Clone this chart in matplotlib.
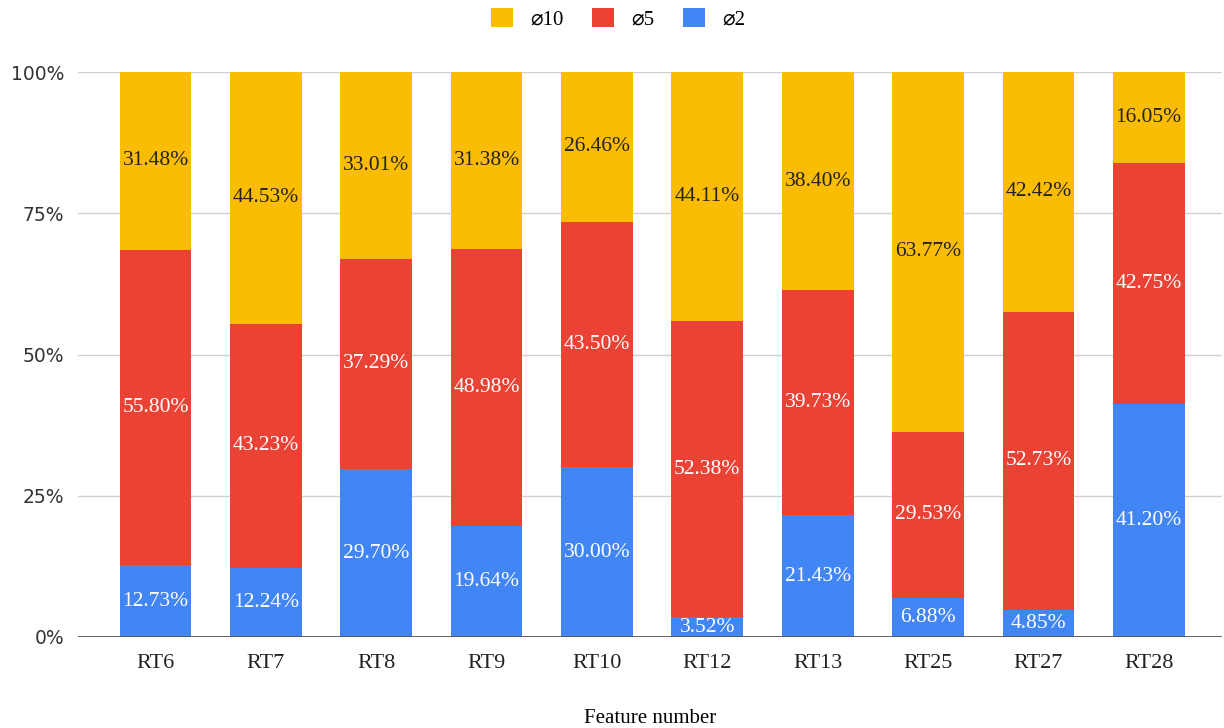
import numpy as np
import matplotlib
matplotlib.use("Agg")
from matplotlib import pyplot as plt
from matplotlib.patches import Patch
from matplotlib.ticker import FuncFormatter

features = ["RT6", "RT7", "RT8", "RT9", "RT10", "RT12", "RT13", "RT25", "RT27", "RT28"]
d2 = [12.73, 12.24, 29.70, 19.64, 30.00, 3.52, 21.43, 6.88, 4.85, 41.20]
d5 = [55.80, 43.23, 37.29, 48.98, 43.50, 52.38, 39.73, 29.53, 52.73, 42.75]
d10 = [31.48, 44.53, 33.01, 31.38, 26.46, 44.11, 38.40, 63.77, 42.42, 16.05]

series = [("⌀2", d2, "#4285F4", "white"),
          ("⌀5", d5, "#EA4335", "white"),
          ("⌀10", d10, "#FBBC04", "#222222")]

serif = ["Liberation Serif", "DejaVu Serif", "DejaVu Sans", "Noto Sans",
         "Noto Sans CJK SC", "Noto Sans CJK JP"]

fig = plt.figure(figsize=(12.24, 7.28), dpi=100)
ax = fig.add_axes([0.064, 0.125, 0.934, 0.776])

x = np.arange(len(features))
total = np.array(d2) + np.array(d5) + np.array(d10)
bottom = np.zeros(len(features))
for name, vals, color, tcolor in series:
    frac = np.array(vals) / total
    ax.bar(x, frac, 0.65, bottom=bottom, color=color, zorder=2)
    for xi, b, f, v in zip(x, bottom, frac, vals):
        ax.text(xi, b + f / 2, f"{v:.2f}%", ha="center", va="center",
                color=tcolor, fontsize=15.5, family=serif, zorder=3)
    bottom += frac

ax.set_xlim(-0.70, 9.66)
ax.set_ylim(0, 1)
ax.set_yticks([0, 0.25, 0.5, 0.75, 1.0])
ax.yaxis.set_major_formatter(FuncFormatter(lambda v, p: f"{v * 100:.0f}%"))
ax.grid(axis="y", color="#d0d0d0", linewidth=1, zorder=0)
ax.axhline(0, color="#555555", linewidth=2, zorder=4)
for s in ax.spines.values():
    s.set_visible(False)
ax.tick_params(length=0)
ax.tick_params(axis="y", labelsize=13.5, labelcolor="#333333", pad=10)
ax.set_xticks(x)
ax.set_xticklabels(features, family=serif, fontsize=16, color="#222222")
ax.tick_params(axis="x", pad=12)
ax.set_xlabel("Feature number", family=serif, fontsize=15, labelpad=26)

handles = [Patch(facecolor=c, label=n) for n, _, c, _ in series[::-1]]
fig.legend(handles=handles, loc="center", bbox_to_anchor=(0.505, 0.974), ncol=3,
           frameon=False, prop={"family": serif, "size": 15},
           handlelength=1.05, handleheight=1.05, columnspacing=1.4, handletextpad=0.8)

fig.savefig("out.png", dpi=100)
